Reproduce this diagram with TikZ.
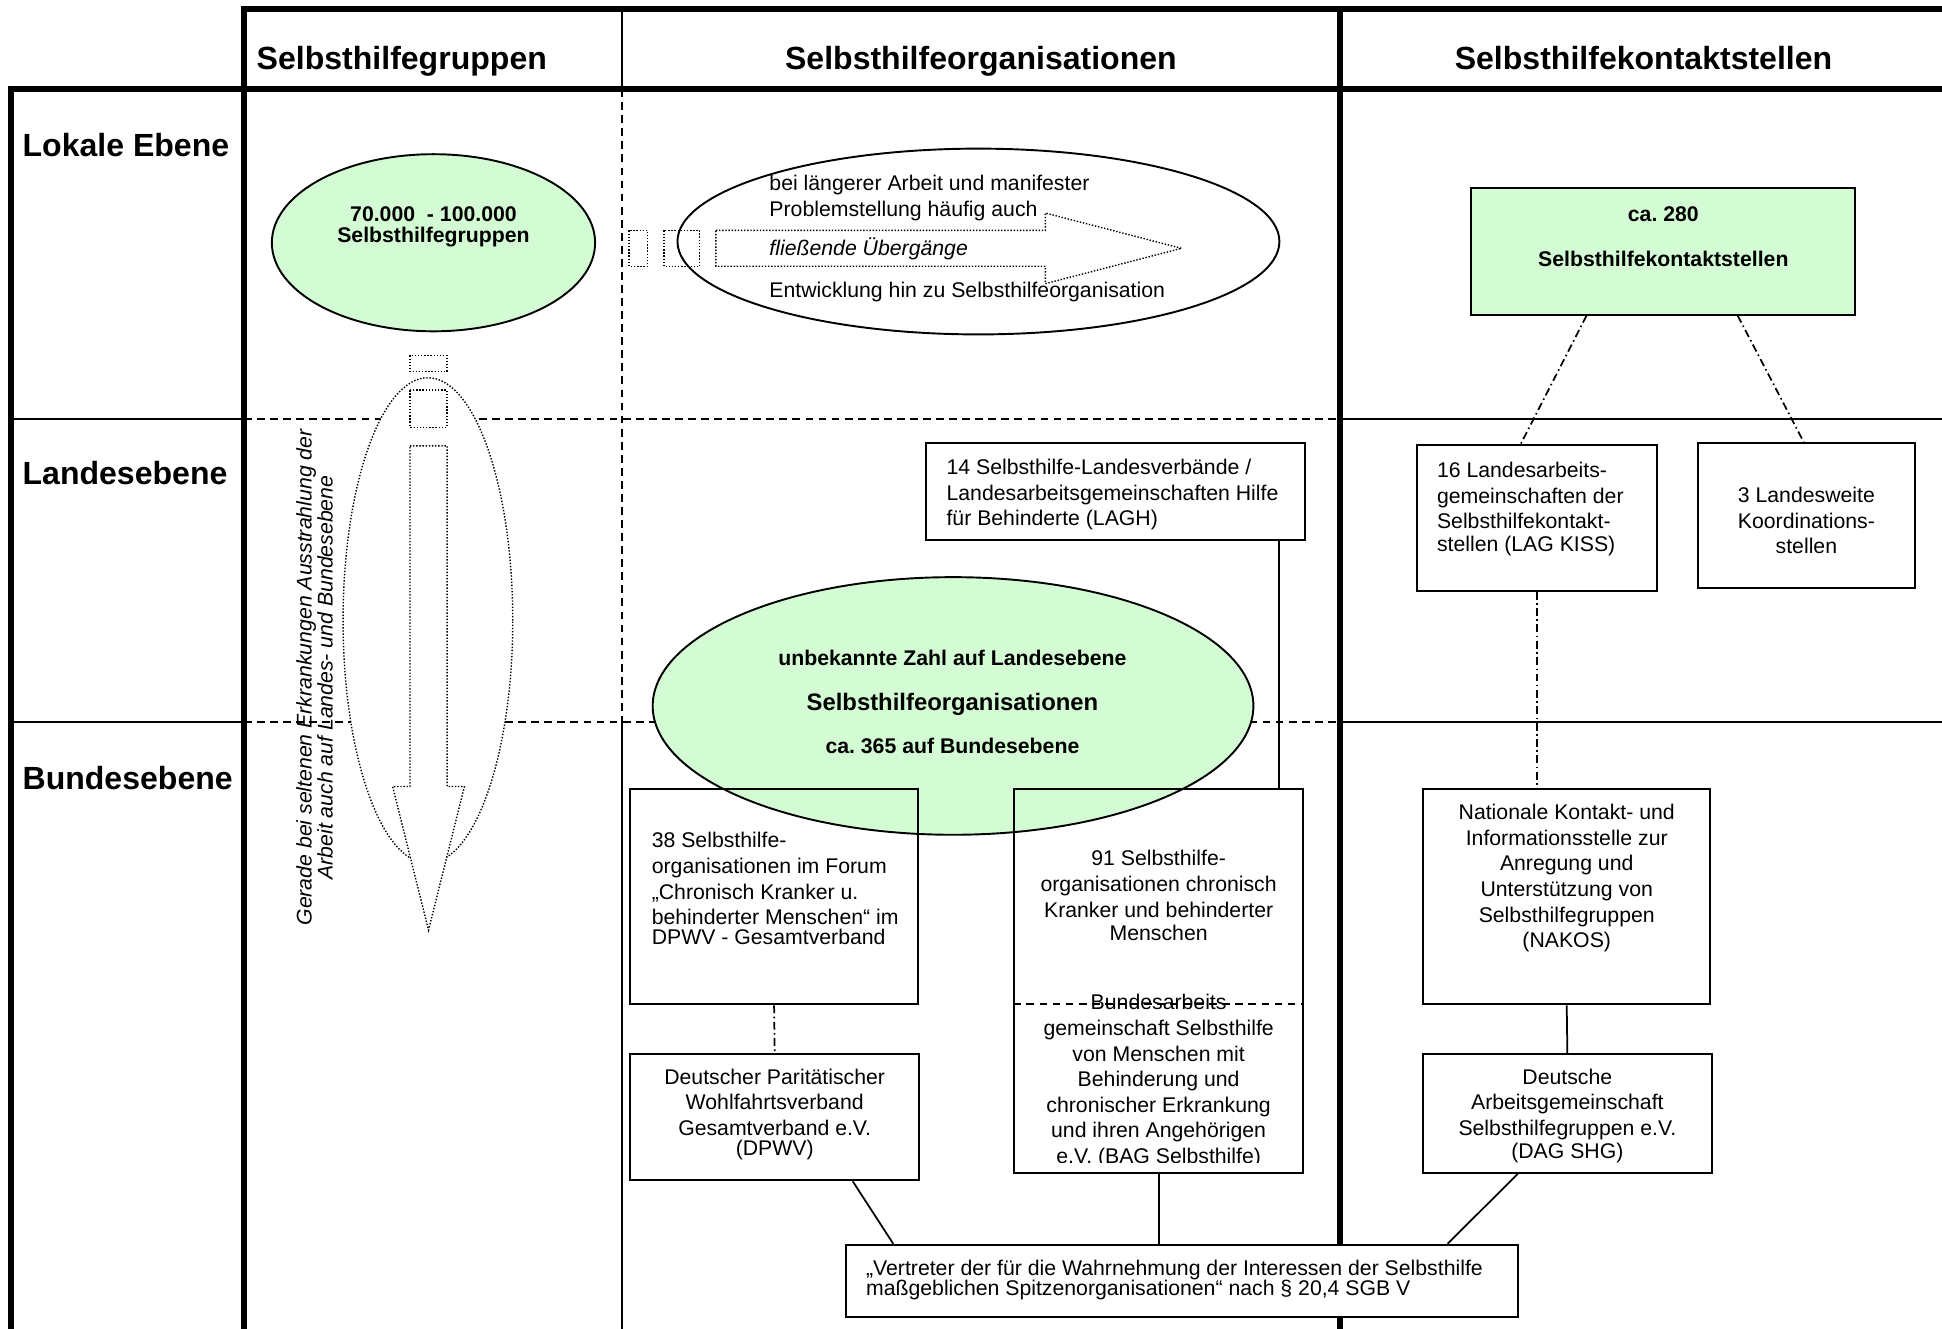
\documentclass[tikz,border=0pt]{standalone}
\usepackage{fontspec}
\setmainfont{Liberation Sans}
\usepackage{xcolor}
\usepackage{tikz}
\usetikzlibrary{shapes.geometric}
\usetikzlibrary{fit}
\usetikzlibrary{calc}

\definecolor{shgreen}{RGB}{212,252,212}

\newcommand{\bodyfont}{\fontsize{12.2}{14.7}\selectfont}
\newcommand{\headfont}{\fontsize{18.4}{22}\selectfont\bfseries}
\newcommand{\greenfont}{\fontsize{12.2}{14.7}\selectfont\bfseries}

\tikzset{
	thickrule/.style={line width=3.6pt},
	thinrule/.style={line width=1pt},
	rowdash/.style={line width=1.1pt, dash pattern=on 4.5pt off 3pt},
	dotline/.style={line width=0.8pt, dash pattern=on 0.8pt off 1pt},
	dashdot/.style={line width=1pt, dash pattern=on 4.5pt off 2pt on 0.9pt off 2pt},
	conn/.style={line width=1pt},
	box/.style={draw, line width=1.1pt, inner sep=0pt},
	oval/.style={ellipse, draw, line width=1.1pt, inner sep=0pt},
	txt/.style={inner sep=0pt, font=\bodyfont},
	head/.style={inner sep=0pt, font=\headfont}
}

\frenchspacing

\begin{document}
\begin{tikzpicture}[x=0.25mm, y=-0.25mm]
	\useasboundingbox (0,0) rectangle (1568,1073);

	%% table
	\draw[thickrule] (9,1073) -- (9,72) -- (1568,72);
	\draw[thickrule] (197,1073) -- (197,7) -- (1568,7);
	\draw[thickrule] (1082,7) -- (1082,1073);
	\draw[thinrule] (502,7) -- (502,72);
	\draw[rowdash] (502,72) -- (502,583);
	\draw[thinrule] (502,583) -- (502,1073);
	\foreach \y in {338,583}
	{
		\draw[thinrule] (9,\y) -- (197,\y);
		\draw[rowdash] (197,\y) -- (1082,\y);
		\draw[thinrule] (1082,\y) -- (1568,\y);
	}

	\node[head, anchor=west] (hsg) at (207,49.5) {Selbsthilfegruppen};
	\node[head] (hso) at (792,49.5) {Selbsthilfeorganisationen};
	\node[head] (hks) at (1327,47) {Selbsthilfekontaktstellen};
	\node[head, anchor=west] (lokal) at (18,117) {Lokale Ebene};
	\node[head, anchor=west] (landes) at (18,382) {Landesebene};
	\node[head, anchor=west] (bundes) at (18,628) {Bundesebene};

	%% Selbsthilfegruppen
	\node[oval, fill=shgreen, minimum width=65.25mm, minimum height=35.75mm] (sgell) at (350,196) {};
	\node[txt, align=center, font=\fontsize{12.2}{12}\selectfont\bfseries] (sgtxt) at (350,183) {70.000\ \ - 100.000\\Selbsthilfegruppen};

	\node[oval, dotline, fill=white, minimum width=34.25mm, minimum height=98mm] (ausstr) at (345.5,501) {};
	\draw[dotline] (331,287) rectangle (361,300);
	\draw[dotline] (331,315) rectangle (361,345);
	\draw[dotline, fill=white] (331,360) -- (361,360) -- (361,635) -- (375,635) -- (346,751) -- (317,635) -- (331,635) -- cycle;
	\node[txt, rotate=90, align=center, font=\fontsize{12.2}{12}\selectfont\itshape] (gerade) at (254,547)
		{Gerade bei seltenen Erkrankungen Ausstrahlung der\\Arbeit auch auf Landes- und Bundesebene};

	%% Selbsthilfeorganisationen
	\node[oval, fill=white, minimum width=121.5mm, minimum height=37.5mm] (entw) at (790,195) {};
	\draw[dotline] (508,186) rectangle (523,215);
	\draw[dotline] (536,186) rectangle (565,215);
	\draw[dotline] (578,186) -- (844,186) -- (844,172) -- (954,200.5) -- (844,229) -- (844,215) -- (578,215) -- cycle;
	\node[txt, align=left, anchor=west] (laenger) at (621,160) {bei längerer Arbeit und manifester\\Problemstellung häufig auch};
	\node[txt, anchor=west, font=\bodyfont\itshape] (fliess) at (621,201) {fließende Übergänge};
	\node[txt, anchor=west] (hinzu) at (621,236) {Entwicklung hin zu Selbsthilfeorganisation};

	\node[oval, fill=shgreen, minimum width=121.25mm, minimum height=52mm] (soell) at (769.5,570) {};
	\node[txt, font=\greenfont] (unbek) at (769,531) {unbekannte Zahl auf Landesebene};
	\node[txt, font=\fontsize{13.7}{16}\selectfont\bfseries] (soname) at (769,569) {Selbsthilfeorganisationen};
	\node[txt, font=\greenfont] (ca365) at (769,602) {ca. 365 auf Bundesebene};

	\begin{scope}[every node/.style={box}]
		\node[fit={(748,358) (1054,436)}] (lagh) {};
		\node[fit={(509,637) (741,811)}] (fo38) {};
		\node[fit={(509,851) (742,953)}] (dpwv) {};
		\node[fit={(819,637) (1052,947)}] (bag) {};
		\node[fill=shgreen, fit={(1188,152) (1498,254)}] (kst) {};
		\node[fit={(1144,359) (1338,477)}] (lagkiss) {};
		\node[fit={(1371,358) (1546,474.5)}] (lk3) {};
		\node[fit={(1149,637) (1381,811)}] (nakos) {};
		\node[fit={(1149,851) (1382,947)}] (dag) {};
		\node[fill=white, fit={(683,1005) (1226,1063)}] (vertr) {};
	\end{scope}

	\node[txt, align=left, anchor=west] (laghtxt) at (764,399.5)
		{14 Selbsthilfe-Landesverbände /\\Landesarbeitsgemeinschaften Hilfe\\für Behinderte (LAGH)};
	\node[txt, align=left, anchor=west] (fo38txt) at (526,717.5)
		{38 Selbsthilfe-\\organisationen im Forum\\„Chronisch Kranker u.\\behinderter Menschen“ im\\[-3.3pt]DPWV - Gesamtverband};
	\node[txt, align=center] (dpwvtxt) at (625.5,899.5)
		{Deutscher Paritätischer\\Wohlfahrtsverband\\Gesamtverband e.V.\\[-3.3pt](DPWV)};
	\node[txt, align=center] (bagtop) at (935.5,723)
		{91 Selbsthilfe-\\organisationen chronisch\\Kranker und behinderter\\[-1.5pt]Menschen};
	\begin{scope}
		\clip (819,637) rectangle (1052,938.5);
		\node[txt, align=center] (bagtxt) at (935.5,873)
			{Bundesarbeits\\gemeinschaft Selbsthilfe\\von Menschen mit\\Behinderung und\\chronischer Erkrankung\\und ihren Angehörigen\\e.V. (BAG Selbsthilfe)};
	\end{scope}
	\draw[rowdash] (bag.west |- 0,811) -- (bag.east |- 0,811);
	\node[txt, align=center, font=\greenfont] (ksttxt) at (1343,191) {ca. 280\\[11.5pt]Selbsthilfekontaktstellen};
	\node[txt, align=left, anchor=west] (kisstxt) at (1160,411)
		{16 Landesarbeits-\\gemeinschaften der\\Selbsthilfekontakt-\\[-1.5pt]stellen (LAG KISS)};
	\node[txt, align=center] (lk3txt) at (1458.5,420.5) {3 Landesweite\\Koordinations-\\stellen};
	\node[txt, align=center] (nakostxt) at (1265,709)
		{Nationale Kontakt- und\\Informationsstelle zur\\Anregung und\\Unterstützung von\\Selbsthilfegruppen\\(NAKOS)};
	\node[txt, align=center] (dagtxt) at (1265.5,901)
		{Deutsche\\Arbeitsgemeinschaft\\Selbsthilfegruppen e.V.\\[-1.2pt](DAG SHG)};
	\node[txt, align=left, anchor=west] (vertrtxt) at (699,1033.5)
		{„Vertreter der für die Wahrnehmung der Interessen der Selbsthilfe\\[-3.4pt]maßgeblichen Spitzenorganisationen“ nach § 20,4 SGB V};

	%% connections
	\coordinate (laghfoot) at ($(lagh.south east)+(-22,0)$);
	\draw[conn] (laghfoot) -- (laghfoot |- bag.north);
	\draw[dashdot] (fo38.south) -- (dpwv.north);
	\draw[conn] ($(dpwv.south)+(63,0)$) -- ($(vertr.north west)+(39,0)$);
	\draw[conn] (bag.south) -- (bag.south |- vertr.north);
	\draw[conn] ($(dag.south)+(-40,0)$) -- ($(vertr.north east)+(-58,0)$);
	\draw[conn] (nakos.south) -- (dag.north);
	\draw[dashdot] (lagkiss.south) -- (lagkiss.south |- nakos.north);
	\draw[dashdot] ($(kst.south)+(-62,0)$) -- ($(lagkiss.north)+(-13,0)$);
	\draw[dashdot] ($(kst.south)+(60,0)$) -- ($(lk3.north)+(-2,0)$);

\end{tikzpicture}
\end{document}
